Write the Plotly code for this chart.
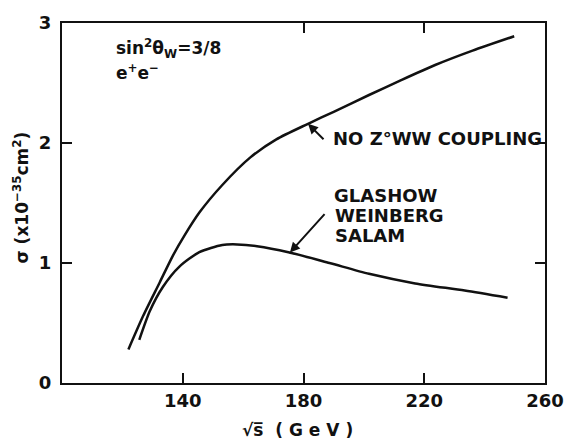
import numpy as np
import plotly.graph_objects as go

# sqrt(s) in GeV and cross section in units of 1e-35 cm^2
no_coupling_x = [122.0, 126.9, 132.4, 136.7, 140.6, 145.5, 153.1, 162.4, 171.0, 181.5, 190.0, 201.7, 212.0, 223.6, 236.0, 249.8]
no_coupling_y = [0.28, 0.56, 0.84, 1.06, 1.23, 1.42, 1.65, 1.88, 2.03, 2.16, 2.26, 2.40, 2.52, 2.65, 2.77, 2.89]

gws_x = [125.6, 129.1, 133.4, 138.9, 145.5, 153.1, 158.0, 164.6, 175.0, 188.6, 201.7, 217.0, 233.4, 247.6]
gws_y = [0.36, 0.60, 0.80, 0.97, 1.09, 1.15, 1.155, 1.14, 1.09, 1.00, 0.91, 0.83, 0.77, 0.71]

x_ticks = [140, 180, 220, 260]
y_ticks = [0, 1, 2, 3]

INK = "#111111"
FONT = "DejaVu Sans"

fig = go.Figure()
for xs, ys in [(no_coupling_x, no_coupling_y), (gws_x, gws_y)]:
    fig.add_trace(go.Scatter(x=xs, y=ys, mode="lines",
                             line=dict(color=INK, width=2.5, shape="spline", smoothing=0.7),
                             showlegend=False, hoverinfo="skip"))

# invisible trace carrying the top/right tick axes
fig.add_trace(go.Scatter(x=[100, 260], y=[0, 3], xaxis="x2", yaxis="y2", mode="markers",
                         marker=dict(opacity=0), showlegend=False, hoverinfo="skip"))

axis_common = dict(ticks="inside", ticklen=10, tickwidth=2, tickcolor=INK,
                   showline=True, linewidth=2, linecolor=INK, showgrid=False, zeroline=False)

fig.update_layout(
    width=576, height=446,
    margin=dict(l=62, r=23, t=20, b=63),
    paper_bgcolor="white", plot_bgcolor="white",
    font=dict(family=FONT, color=INK),
    xaxis=dict(range=[100, 260], tickvals=x_ticks, ticktext=[str(v) for v in x_ticks],
               tickfont=dict(size=18, family=FONT, weight="bold"), ticklabelstandoff=0, **axis_common),
    yaxis=dict(range=[0, 3], tickvals=y_ticks, ticktext=[str(v) for v in y_ticks],
               tickfont=dict(size=18, family=FONT, weight="bold"), ticklabelstandoff=5, **axis_common),
    xaxis2=dict(range=[100, 260], overlaying="x", side="top", tickvals=[180, 220],
                showticklabels=False, **axis_common),
    yaxis2=dict(range=[0, 3], overlaying="y", side="right", tickvals=[1, 2],
                showticklabels=False, **axis_common),
)

txt = dict(family=FONT, size=17, color=INK, weight="bold")

fig.add_annotation(x=0.108, y=0.93, xref="paper", yref="paper", xanchor="left", yanchor="middle",
                   text="sin<sup>2</sup>θ<sub>W</sub>=3/8", showarrow=False, font=txt)
fig.add_annotation(x=0.108, y=0.865, xref="paper", yref="paper", xanchor="left", yanchor="middle",
                   text="e<sup>+</sup>e<sup>−</sup>", showarrow=False, font=txt)

fig.add_annotation(x=0.556, y=0.678, xref="paper", yref="paper", xanchor="left", yanchor="middle",
                   text="NO Z°WW COUPLING", showarrow=False, font=dict(txt, size=18))
for line, yy, xx in [("GLASHOW", 0.522, 0.560), ("WEINBERG", 0.466, 0.562), ("SALAM", 0.409, 0.562)]:
    fig.add_annotation(x=xx, y=yy, xref="paper", yref="paper", xanchor="left", yanchor="middle",
                       text=line, showarrow=False, font=dict(txt, size=18))

# arrows pointing at each curve
p1 = 181.5
fig.add_annotation(x=p1, y=float(np.interp(p1, no_coupling_x, no_coupling_y)), ax=17, ay=17,
                   text="", showarrow=True, arrowhead=2, arrowsize=1, arrowwidth=2, arrowcolor=INK)
p2 = 175.5
fig.add_annotation(x=p2, y=float(np.interp(p2, gws_x, gws_y)), ax=36, ay=-40,
                   text="", showarrow=True, arrowhead=2, arrowsize=1, arrowwidth=2, arrowcolor=INK)

# axis titles
fig.add_annotation(x=178, y=-0.13, xref="x", yref="paper", xanchor="center", yanchor="middle",
                   text="√s̅  ( G e V )", showarrow=False,
                   font=dict(family=FONT, size=17, color=INK, weight="bold"))
fig.add_annotation(x=-0.085, y=0.515, xref="paper", yref="paper", xanchor="center", yanchor="middle",
                   textangle=-90, text="σ (x10<sup>−35</sup>cm<sup>2</sup>)", showarrow=False,
                   font=dict(family=FONT, size=17, color=INK, weight="bold"))

fig.write_html("out.html")
